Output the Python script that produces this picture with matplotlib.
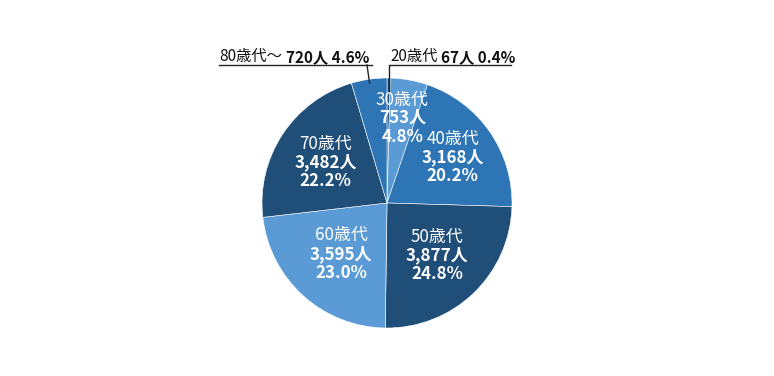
import numpy as np
import matplotlib
matplotlib.use("Agg")
import matplotlib.pyplot as plt
from matplotlib.lines import Line2D

plt.rcParams['font.family'] = ['Noto Sans CJK JP', 'DejaVu Sans']

# ---- data ----
categories = ['20歳代', '30歳代', '40歳代', '50歳代', '60歳代', '70歳代', '80歳代～']
counts = [67, 753, 3168, 3877, 3595, 3482, 720]
count_labels = ['67人', '753人', '3,168人', '3,877人', '3,595人', '3,482人', '720人']
pct_labels = ['0.4%', '4.8%', '20.2%', '24.8%', '23.0%', '22.2%', '4.6%']

# ---- style ----
DARK = '#1F4E79'
MID = '#2E75B6'
LIGHT = '#5B9BD5'
colors = [DARK, LIGHT, MID, DARK, LIGHT, DARK, MID]
inside_r = [None, 0.69, 0.64, 0.58, 0.55, 0.59, None]

W, H = 774, 376
fig = plt.figure(figsize=(W / 100, H / 100), dpi=100)
cx, cy, R = 387, 203, 125
ax = fig.add_axes([(cx - R) / W, (H - cy - R) / H, 2 * R / W, 2 * R / H])
ax.axis('off')

wedges, _ = ax.pie(counts, colors=colors, startangle=90, counterclock=False,
                   radius=1, center=(0, 0), frame=False,
                   wedgeprops=dict(edgecolor='white', linewidth=0.4))
ax.set_xlim(-1, 1)
ax.set_ylim(-1, 1)
ax.set_aspect('auto')

FS = 12.2
FS_OUT = 11.0
LS = 13.4  # line spacing in points

def mid_angle(w):
    return np.deg2rad((w.theta1 + w.theta2) / 2)

for i, w in enumerate(wedges):
    r = inside_r[i]
    if r is None:
        continue
    a = mid_angle(w)
    x, y = r * np.cos(a), r * np.sin(a)
    ax.annotate(categories[i], (x, y), xytext=(0, LS), textcoords='offset points',
                ha='center', va='center', color='white', fontsize=FS)
    ax.annotate(count_labels[i], (x, y), xytext=(0, 0), textcoords='offset points',
                ha='center', va='center', color='white', fontsize=FS, fontweight='bold')
    ax.annotate(pct_labels[i], (x, y), xytext=(0, -LS), textcoords='offset points',
                ha='center', va='center', color='white', fontsize=FS, fontweight='bold')

# ---- outside labels ----
def outside(i, x_left, x_end, y_base, y_line, leader_r):
    t1 = fig.text(x_left / W, (H - y_base) / H, categories[i], fontsize=FS_OUT,
                  color='#111111', ha='left', va='baseline')
    ax.annotate(count_labels[i] + ' ' + pct_labels[i], xy=(1, 0), xycoords=t1,
                xytext=(2.8, 0), textcoords='offset points',
                ha='left', va='bottom', fontsize=FS_OUT, fontweight='bold',
                color='#111111', annotation_clip=False)
    fig.add_artist(Line2D([x_left / W, x_end / W], [(H - y_line) / H] * 2,
                          color='#222222', linewidth=1.0, transform=fig.transFigure))
    a = mid_angle(wedges[i])
    ex, ey = leader_r * np.cos(a), leader_r * np.sin(a)
    disp = ax.transData.transform((ex, ey))
    return fig.transFigure.inverted().transform(disp)

# 80s
fx, fy = outside(6, 219, 372, 61, 65, 0.97)
fig.add_artist(Line2D([367 / W, fx], [(H - 65) / H, fy], color='#222222',
                      linewidth=1.0, transform=fig.transFigure))
# 20s
fx, fy = outside(0, 390, 511, 61, 65, 0.9)
fig.add_artist(Line2D([fx, fx], [(H - 65) / H, fy], color='#222222',
                      linewidth=1.0, transform=fig.transFigure))

fig.savefig('out.png', dpi=100, facecolor='white')
